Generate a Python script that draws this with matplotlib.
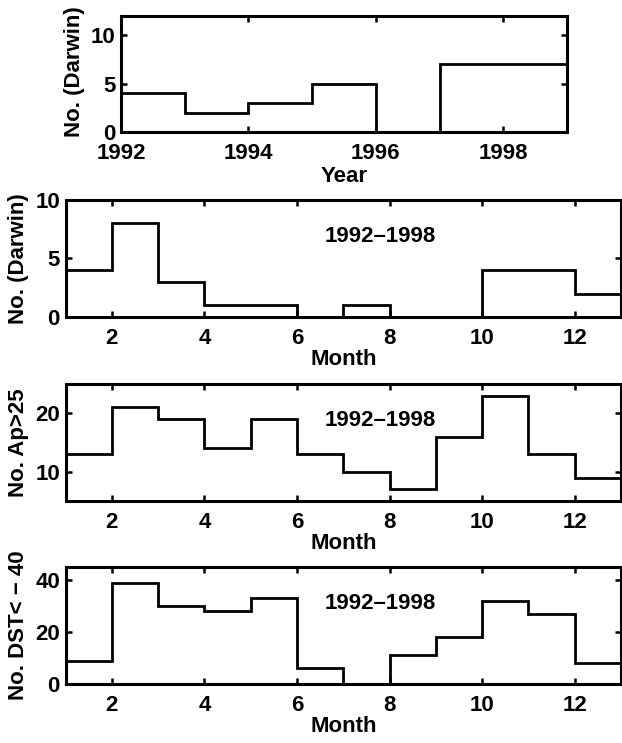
import numpy as np
import matplotlib
matplotlib.use('Agg')
import matplotlib.pyplot as plt

plt.rcParams['font.family'] = ['Liberation Sans', 'DejaVu Sans']
plt.rcParams['font.weight'] = 'bold'
plt.rcParams['font.size'] = 16

# Data
years = [1992, 1993, 1994, 1995, 1996, 1997, 1998]
darwin_year = [4, 2, 3, 5, 0, 7, 7]

months = [1, 2, 3, 4, 5, 6, 7, 8, 9, 10, 11, 12]
darwin_month = [4, 8, 3, 1, 1, 0, 1, 0, 0, 4, 4, 2]
ap_month = [13, 21, 19, 14, 19, 13, 10, 7, 16, 23, 13, 9]
dst_month = [9, 39, 30, 28, 33, 6, 0, 11, 18, 32, 27, 8]

period_label = '1992\u20131998'

FS = 16
W, H = 622, 743
fig = plt.figure(figsize=(W / 100, H / 100), dpi=100)


def box(left, top, right, bottom):
    """axes rectangle from pixel edges"""
    return [left / W, 1 - bottom / H, (right - left) / W, (bottom - top) / H]


def style(ax):
    for s in ax.spines.values():
        s.set_linewidth(2.2)
    ax.tick_params(direction='in', length=4, width=1.8, top=True, right=True,
                   labelsize=FS, pad=4)
    ax.tick_params(axis='x', pad=8)


def draw_steps(ax, x, y):
    edges = list(x) + [x[-1] + 1]
    ax.stairs(y, edges, baseline=None, color='black', linewidth=2)


# Panel 1: per year
ax1 = fig.add_axes(box(121, 16, 567, 132))
draw_steps(ax1, years, darwin_year)
ax1.set_xlim(1992, 1999)
ax1.set_ylim(0, 12)
ax1.set_xticks([1992, 1994, 1996, 1998])
ax1.set_yticks([0, 5, 10])
ax1.set_xlabel('Year', fontweight='bold', fontsize=FS, labelpad=1)
ax1.set_ylabel('No. (Darwin)', fontweight='bold', fontsize=FS)
ax1.yaxis.set_label_coords(-0.08, 0.52)
style(ax1)

panels = [
    (200, 317, darwin_month, (0, 10), [0, 5, 10], 'No. (Darwin)'),
    (384, 501, ap_month, (5, 25), [10, 20], 'No. Ap>25'),
    (567, 684, dst_month, (0, 45), [0, 20, 40], 'No. DST< \u2212 40'),
]

for top, bottom, vals, ylim, yticks, ylab in panels:
    ax = fig.add_axes(box(65.5, top, 621, bottom))
    draw_steps(ax, months, vals)
    ax.set_xlim(1, 13)
    ax.set_ylim(*ylim)
    ax.set_xticks([2, 4, 6, 8, 10, 12])
    ax.set_yticks(yticks)
    ax.set_xlabel('Month', fontweight='bold', fontsize=FS, labelpad=0)
    ax.set_ylabel(ylab, fontweight='bold', fontsize=FS)
    ax.yaxis.set_label_coords(-0.066, 0.5)
    ax.text(0.567, 0.69, period_label, transform=ax.transAxes,
            ha='center', va='center', fontsize=FS, fontweight='bold')
    style(ax)

fig.savefig('out.png', dpi=100)
